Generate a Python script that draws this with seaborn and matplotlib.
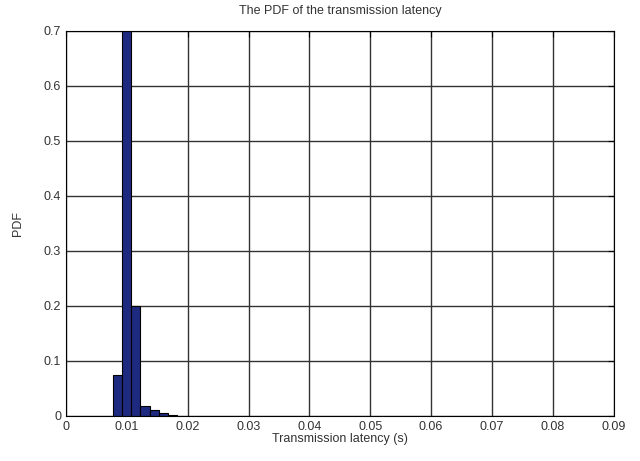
import numpy as np
import pandas as pd
import matplotlib
matplotlib.use("Agg")
import matplotlib.pyplot as plt
import seaborn as sns

# Data
bin_centers = [0.0085, 0.0100, 0.0115, 0.0130, 0.0145, 0.0160, 0.0175]
pdf_values = [0.075, 0.70, 0.20, 0.018, 0.011, 0.005, 0.002]
bin_width = 0.0015
x_ticks = [0, 0.01, 0.02, 0.03, 0.04, 0.05, 0.06, 0.07, 0.08, 0.09]
x_tick_labels = ["0", "0.01", "0.02", "0.03", "0.04", "0.05", "0.06", "0.07", "0.08", "0.09"]
y_ticks = [0, 0.1, 0.2, 0.3, 0.4, 0.5, 0.6, 0.7]
y_tick_labels = ["0", "0.1", "0.2", "0.3", "0.4", "0.5", "0.6", "0.7"]

sns.set_style("white")
plt.rcParams['font.family'] = ['Liberation Sans', 'DejaVu Sans']

df = pd.DataFrame({"latency": bin_centers, "pdf": pdf_values})
lo = bin_centers[0] - bin_width / 2
hi = bin_centers[-1] + bin_width / 2

fig = plt.figure(figsize=(6.4, 4.61), dpi=100)
ax = fig.add_axes([0.103, 0.098, 0.856, 0.835])

sns.histplot(data=df, x="latency", weights="pdf", binwidth=bin_width, binrange=(lo, hi),
             stat="count", color="#1e2a80", edgecolor="black", linewidth=0.8, alpha=1, ax=ax)

ax.set_xlim(0, 0.09)
ax.set_ylim(0, 0.7)
ax.set_xticks(x_ticks)
ax.set_xticklabels(x_tick_labels)
ax.set_yticks(y_ticks)
ax.set_yticklabels(y_tick_labels)
ax.grid(True, color="#333333", linewidth=1.0, linestyle="-")
ax.set_axisbelow(True)
for s in ax.spines.values():
    s.set_visible(True)
    s.set_color("black")
    s.set_linewidth(0.8)
ax.tick_params(direction="in", top=True, right=True, labelsize=9, length=4,
               colors="black", labelcolor="#333333")
ax.set_xlabel("Transmission latency (s)", fontsize=9, labelpad=0, color="#333333")
ax.set_ylabel("PDF", fontsize=9, labelpad=14, color="#333333")
ax.set_title("The PDF of the transmission latency", fontsize=9, pad=12, color="#333333")

fig.savefig("out.png", dpi=100)
